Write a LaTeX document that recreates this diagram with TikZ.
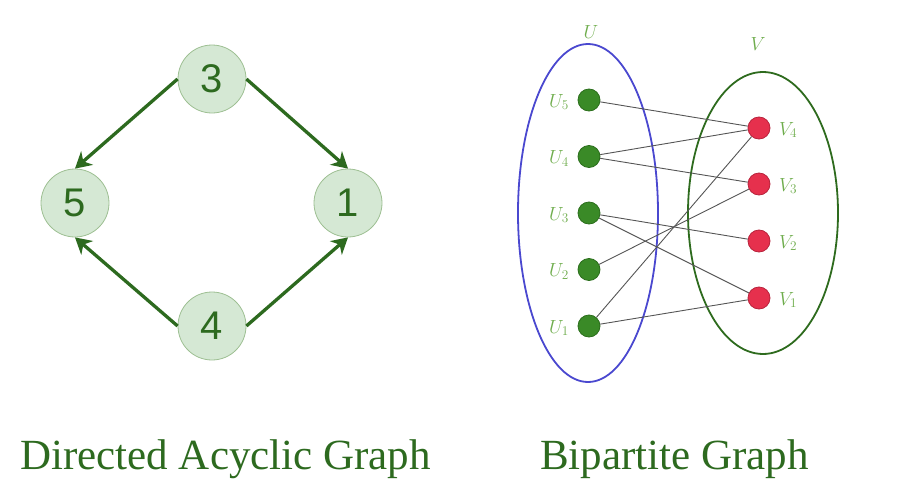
\RequirePackage{fix-cm}
\documentclass[tikz,border=0pt]{standalone}
\usepackage{fontspec}
\setmainfont{Liberation Serif}
\newfontfamily\digitfont{Liberation Sans}
\usetikzlibrary{arrows.meta,positioning}
\definecolor{dagfill}{HTML}{D5E8D4}
\definecolor{dagline}{HTML}{9DBF92}
\definecolor{darkgreen}{HTML}{2D6A1F}
\definecolor{ublue}{HTML}{4A48CF}
\definecolor{vgreen}{HTML}{2E6B1E}
\definecolor{dotgreen}{HTML}{3A8A27}
\definecolor{dotgreenline}{HTML}{2B6E1C}
\definecolor{dotred}{HTML}{E6304D}
\definecolor{dotredline}{HTML}{B8233C}
\definecolor{lbl}{HTML}{6FAD4D}
\definecolor{edge}{HTML}{555555}
\tikzset{
  dagnode/.style={circle, minimum size=68pt, inner sep=0pt, fill=dagfill, draw=dagline, line width=0.8pt,
    text=darkgreen, font=\digitfont\fontsize{40}{40}\selectfont},
  dagarrow/.style={draw=darkgreen, line width=3.3pt, -{Stealth[length=16pt, width=18pt, inset=5pt]}},
  unode/.style={circle, minimum size=22pt, inner sep=0pt, fill=dotgreen, draw=dotgreenline, line width=0.8pt},
  vnode/.style={circle, minimum size=22pt, inner sep=0pt, fill=dotred, draw=dotredline, line width=0.8pt},
  sidelabel/.style={text=lbl, font=\fontsize{19}{19}\selectfont, inner sep=0pt},
  bedge/.style={draw=edge, line width=0.9pt},
  caption/.style={text=darkgreen, font=\fontsize{43}{43}\selectfont, inner sep=0pt, anchor=base west}
}
\begin{document}
\begin{tikzpicture}[x=1pt, y=-1pt]
  \useasboundingbox (0,0) rectangle (898,490);

  % directed acyclic graph
  \node[dagnode] (n3) at (212,79) {3};
  \node[dagnode] (n5) at (75,203) {5};
  \node[dagnode] (n1) at (348,203) {1};
  \node[dagnode] (n4) at (212,326) {4};
  \draw[dagarrow] (n3.west) -- (n5.north);
  \draw[dagarrow] (n3.east) -- (n1.north);
  \draw[dagarrow] (n4.west) -- (n5.south);
  \draw[dagarrow] (n4.east) -- (n1.south);

  % bipartite graph: the two vertex sets
  \draw[ublue, line width=1.8pt] (588,213) ellipse [x radius=70, y radius=169];
  \draw[vgreen, line width=1.8pt] (763,213) ellipse [x radius=75, y radius=141];
  \node[sidelabel] (lu) at (591,32) {$U$};
  \node[sidelabel] (lv) at (758,44) {$V$};

  \foreach \i/\y in {5/100, 4/156.5, 3/213, 2/269.5, 1/326} {
    \node[sidelabel, anchor=east] (lu\i) at (569,\y+2) {$U_\i$};
    \node[unode] (u\i) at (589,\y) {};
  }
  \foreach \i/\y in {4/128, 3/184, 2/241, 1/298} {
    \node[vnode] (v\i) at (759,\y) {};
    \node[sidelabel, anchor=west] (lv\i) at (779,\y+2) {$V_\i$};
  }

  \foreach \a/\b in {5/4, 4/4, 4/3, 3/2, 3/1, 2/3, 1/4, 1/1} {
    \draw[bedge] (u\a) -- (v\b);
  }

  % captions
  \node[caption] (c1) at (20,469) {Directed Acyclic Graph};
  \node[caption] (c2) at (540,469) {Bipartite Graph};
\end{tikzpicture}
\end{document}
